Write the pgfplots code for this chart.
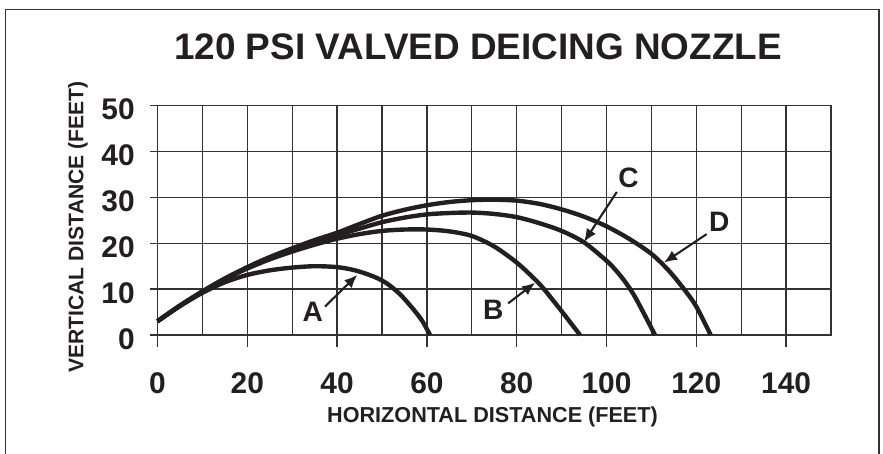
\documentclass[border=0pt]{standalone}
\usepackage{pgfplots}
\pgfplotsset{compat=1.18}
\usetikzlibrary{arrows.meta}
\usepackage{fontspec}
\setmainfont{Liberation Sans}
\definecolor{ink}{HTML}{231F20}
\definecolor{gridc}{HTML}{333333}
\begin{document}
\begin{tikzpicture}
\useasboundingbox (0,0) rectangle (17.66,-9.06);
\draw[gridc, line width=0.9pt] (0.11,-9.6) -- (0.11,-0.186) -- (17.58,-0.186) -- (17.58,-9.6);
\node[font=\fontsize{21}{21}\selectfont\bfseries, text=ink] at (9.56,-0.94) {120 PSI VALVED DEICING NOZZLE};
\node[font=\fontsize{12}{12}\selectfont\bfseries, text=ink, rotate=90] at (1.56,-4.54) {VERTICAL DISTANCE (FEET)};
\node[font=\fontsize{12.3}{12}\selectfont\bfseries, text=ink] at (9.85,-8.34) {HORIZONTAL DISTANCE (FEET)};
\begin{axis}[
  at={(3.15cm,-6.70cm)}, anchor=south west,
  width=13.47cm, height=4.586cm, scale only axis,
  xmin=0, xmax=150, ymin=0, ymax=50,
  xtick={0,10,...,150}, xticklabels={0,,20,,40,,60,,80,,100,,120,,140,},
  ytick={0,10,...,50}, yticklabels={0,10,20,30,40,50},
  major tick length=0pt,
  grid=major, grid style={gridc, line width=0.75pt},
  axis line style={gridc, line width=0.75pt},
  xticklabel style={anchor=center, inner sep=0pt, yshift=-0.96cm, font=\fontsize{17}{17}\selectfont\bfseries, text=ink},
  yticklabel style={anchor=east, inner sep=0pt, xshift=-0.45cm, yshift=-0.08cm, font=\fontsize{17}{17}\selectfont\bfseries, text=ink},
  clip=false,
]
\pgfplotsinvokeforeach{0,20,40,60,80,100,120,140}{\draw[gridc, line width=0.75pt] (axis cs:#1,0) -- ++(0,-0.24cm);}
\pgfplotsinvokeforeach{0,10,20,30,40,50}{\draw[gridc, line width=0.75pt] (axis cs:0,#1) -- ++(-0.16cm,0);}
% A
\addplot[ink, line width=2.5pt, smooth] coordinates {
(0,3) (5,6.3) (10,9.2) (15,11.5) (20,13.1) (25,14.1) (30,14.7) (35,15.0) (40,14.8) (44,14.1) (48,12.8) (51,11.3) (54,8.9) (57,5.6) (59,3.0) (60.7,0)};
% B
\addplot[ink, line width=2.5pt, smooth] coordinates {
(0,3) (5,6.4) (10,9.4) (15,12.2) (20,14.5) (25,16.5) (30,18.2) (35,19.7) (40,21.0) (45,22.0) (50,22.7) (55,23.0) (60,23.0) (65,22.6) (70,21.6) (75,19.3) (80,15.8) (84,12.2) (86,10.1) (90,5.2) (94.1,0)};
% C
\addplot[ink, line width=2.5pt, smooth] coordinates {
(0,3) (5,6.4) (10,9.5) (15,12.3) (20,14.7) (25,16.8) (30,18.6) (35,20.3) (40,21.8) (45,23.2) (50,24.6) (55,25.6) (60,26.3) (65,26.6) (70,26.7) (75,26.4) (80,25.7) (85,24.4) (90,22.7) (95,20.2) (100,16.2) (102,14.2) (104,11.8) (106,8.9) (108,5.3) (110.8,0)};
% D
\addplot[ink, line width=2.5pt, smooth] coordinates {
(0,3) (5,6.4) (10,9.5) (15,12.3) (20,14.8) (25,17.0) (30,18.9) (35,20.7) (40,22.3) (45,24.2) (50,26.0) (55,27.3) (60,28.3) (65,29.0) (70,29.4) (75,29.5) (80,29.3) (85,28.6) (90,27.4) (95,25.8) (100,23.7) (105,21.0) (110,17.7) (114,13.9) (117.5,9.7) (120,6.2) (123.2,0)};
\tikzset{lab/.style={font=\fontsize{16}{16}\selectfont\bfseries, text=ink, inner sep=0pt},
         arr/.style={ink, line width=1.2pt, -{Latex[length=0.26cm, width=0.22cm]}}}
\draw[arr] (axis cs:37.3,6.2) -- (axis cs:44.5,13.1);
\draw[arr] (axis cs:78.1,6.9) -- (axis cs:84.1,11.4);
\draw[arr] (axis cs:102.3,31.2) -- (axis cs:95.0,20.3);
\draw[arr] (axis cs:122.3,22.0) -- (axis cs:112.8,15.8);
\node[lab] at (axis cs:34.6,5.0) {A};
\node[lab] at (axis cs:74.8,5.5) {B};
\node[lab] at (axis cs:104.9,34.2) {C};
\node[lab] at (axis cs:125.1,24.7) {D};
\end{axis}
\end{tikzpicture}
\end{document}
